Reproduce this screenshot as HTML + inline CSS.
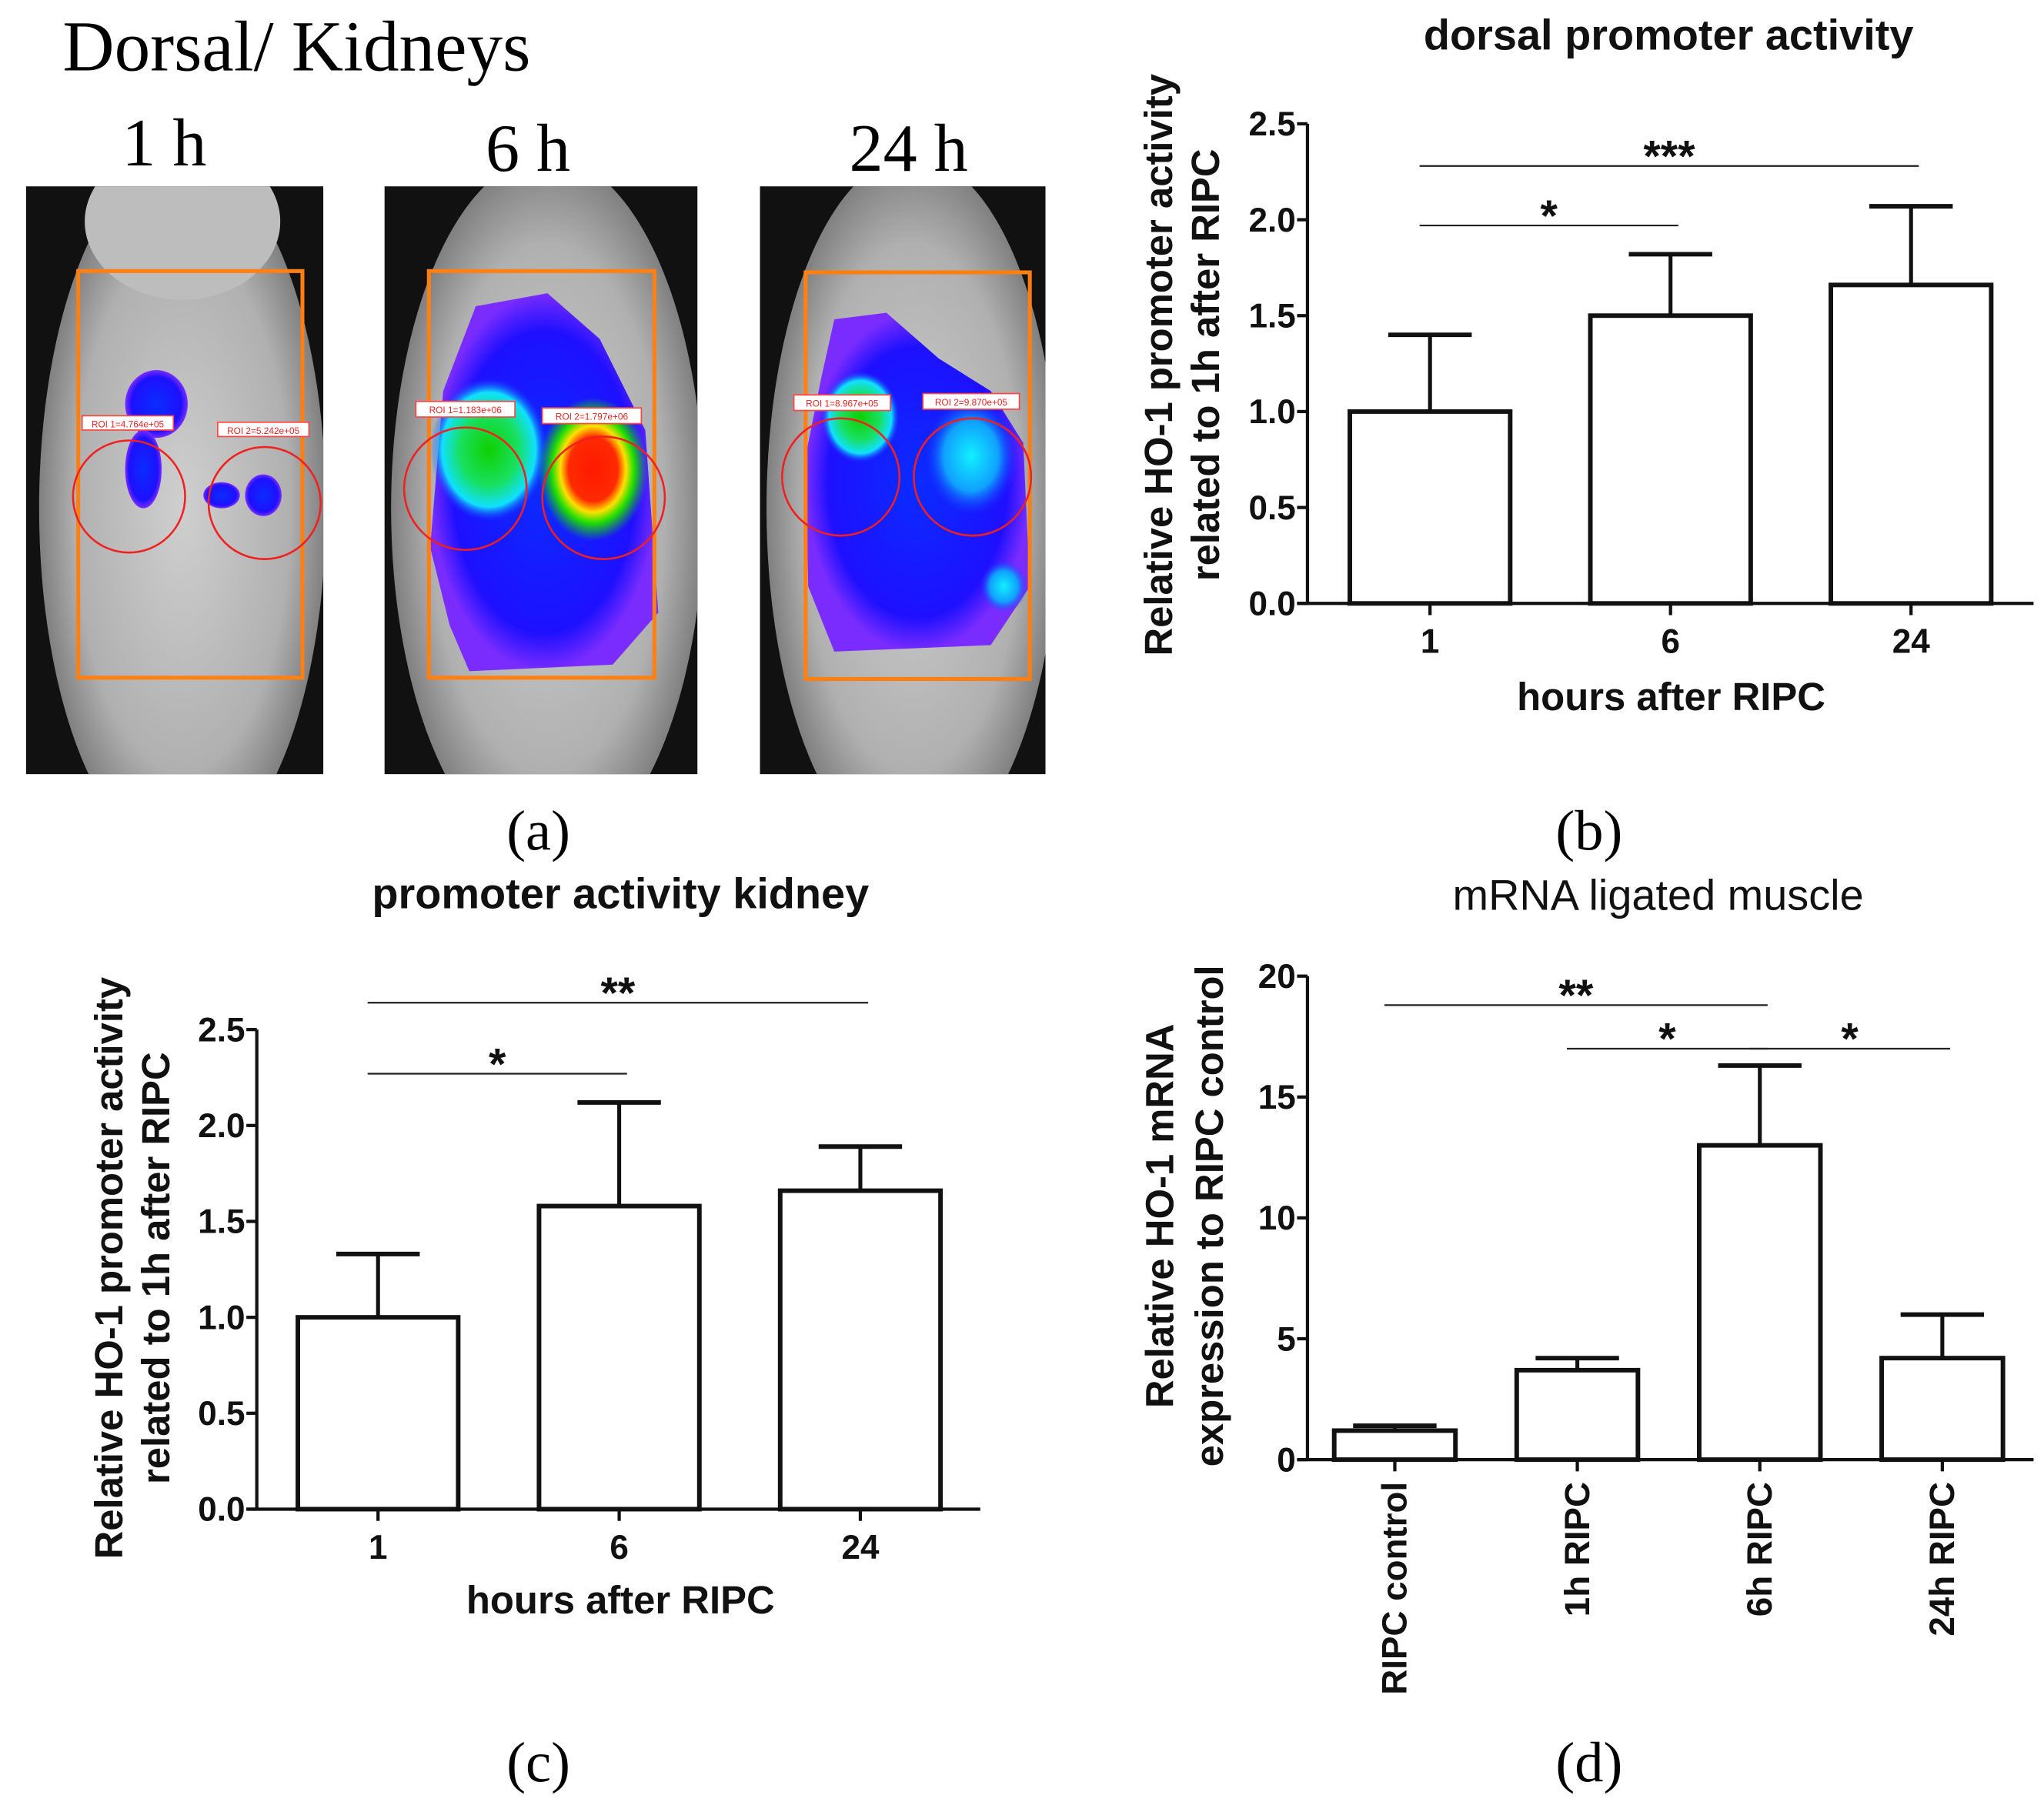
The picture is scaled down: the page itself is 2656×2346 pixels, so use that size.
<!DOCTYPE html>
<html><head><meta charset="utf-8">
<style>
html,body{margin:0;padding:0;background:#fff;}
svg{display:block;}
text{font-family:"Liberation Sans",Arial,sans-serif;}
.serif{font-family:"Liberation Serif","Times New Roman",serif;}
</style></head>
<body>
<svg id="fig" width="2656" height="2346" viewBox="0 0 1568 1385" preserveAspectRatio="none" xmlns="http://www.w3.org/2000/svg">
<defs>
<radialGradient id="gBlue"><stop offset="0" stop-color="#0a2cff"/><stop offset="0.8" stop-color="#1e10ff"/><stop offset="1" stop-color="#7a2cff"/></radialGradient>
<radialGradient id="gGreen"><stop offset="0" stop-color="#10d000"/><stop offset="0.5" stop-color="#18e060"/><stop offset="0.8" stop-color="#10e0ff"/><stop offset="1" stop-color="#1040ff" stop-opacity="0"/></radialGradient>
<radialGradient id="gRed"><stop offset="0" stop-color="#ff1a00"/><stop offset="0.45" stop-color="#ff2a00"/><stop offset="0.6" stop-color="#ffe000"/><stop offset="0.75" stop-color="#20e000"/><stop offset="1" stop-color="#10d000" stop-opacity="0"/></radialGradient>
<radialGradient id="gCyan"><stop offset="0" stop-color="#10f0ff"/><stop offset="0.6" stop-color="#10a0ff"/><stop offset="1" stop-color="#1040ff" stop-opacity="0"/></radialGradient>
<radialGradient id="gFur"><stop offset="0" stop-color="#cfcfcf"/><stop offset="0.75" stop-color="#b0b0b0"/><stop offset="1" stop-color="#808080"/></radialGradient>
<clipPath id="c1"><rect x="20" y="143" width="228" height="451"/></clipPath>
<clipPath id="c2"><rect x="295" y="143" width="240" height="451"/></clipPath>
<clipPath id="c3"><rect x="583" y="143" width="219" height="451"/></clipPath>
</defs>

<!-- Panel a -->
<g>
<text class="serif" x="48" y="54" font-size="55">Dorsal/ Kidneys</text>
<text class="serif" x="126" y="127" font-size="52" text-anchor="middle">1 h</text>
<text class="serif" x="405" y="131" font-size="52" text-anchor="middle">6 h</text>
<text class="serif" x="697" y="131" font-size="52" text-anchor="middle">24 h</text>

<g>
<rect x="20" y="143" width="228" height="451" fill="#111"/>
<g clip-path="url(#c1)">
<ellipse cx="140" cy="390" rx="110" ry="270" fill="url(#gFur)"/>
<ellipse cx="140" cy="170" rx="75" ry="60" fill="#bdbdbd"/>
<ellipse cx="120" cy="310" rx="24" ry="26" fill="url(#gBlue)"/>
<ellipse cx="110" cy="360" rx="14" ry="30" fill="url(#gBlue)"/>
<ellipse cx="170" cy="380" rx="14" ry="10" fill="url(#gBlue)"/>
<ellipse cx="202" cy="380" rx="14" ry="16" fill="url(#gBlue)"/>
</g>
<rect x="60" y="208" width="172" height="312" fill="none" stroke="#ff7f10" stroke-width="3"/>
<ellipse cx="99" cy="381" rx="43" ry="43" fill="none" stroke="#f02020" stroke-width="1.5"/>
<ellipse cx="203" cy="386" rx="43" ry="43" fill="none" stroke="#f02020" stroke-width="1.5"/>
<rect x="63" y="319" width="70" height="11" fill="#fff" stroke="#f44" stroke-width="1"/>
<text x="98" y="328" font-size="7" fill="#e22" text-anchor="middle">ROI 1=4.764e+05</text>
<rect x="167" y="324" width="70" height="11" fill="#fff" stroke="#f44" stroke-width="1"/>
<text x="202" y="333" font-size="7" fill="#e22" text-anchor="middle">ROI 2=5.242e+05</text>
</g>

<g>
<rect x="295" y="143" width="240" height="451" fill="#111"/>
<g clip-path="url(#c2)">
<ellipse cx="420" cy="390" rx="120" ry="270" fill="url(#gFur)"/>
<path d="M365 235 L420 225 L460 260 L495 330 L505 470 L470 510 L360 515 L345 480 L330 420 L340 300 Z" fill="url(#gBlue)"/>
<ellipse cx="375" cy="345" rx="45" ry="55" fill="url(#gGreen)"/>
<ellipse cx="455" cy="360" rx="42" ry="55" fill="url(#gRed)"/>
</g>
<rect x="329" y="208" width="173" height="312" fill="none" stroke="#ff7f10" stroke-width="3"/>
<ellipse cx="357" cy="375" rx="47" ry="47" fill="none" stroke="#f02020" stroke-width="1.5"/>
<ellipse cx="463" cy="382" rx="47" ry="47" fill="none" stroke="#f02020" stroke-width="1.5"/>
<rect x="319" y="308" width="76" height="12" fill="#fff" stroke="#f44"/>
<text x="357" y="317" font-size="7" fill="#e22" text-anchor="middle">ROI 1=1.183e+06</text>
<rect x="416" y="313" width="76" height="12" fill="#fff" stroke="#f44"/>
<text x="454" y="322" font-size="7" fill="#e22" text-anchor="middle">ROI 2=1.797e+06</text>
</g>

<g>
<rect x="583" y="143" width="219" height="451" fill="#111"/>
<g clip-path="url(#c3)">
<ellipse cx="700" cy="390" rx="112" ry="270" fill="url(#gFur)"/>
<path d="M640 245 L680 240 L720 275 L760 300 L785 340 L790 450 L760 495 L640 500 L620 450 L618 350 L630 290 Z" fill="url(#gBlue)"/>
<ellipse cx="660" cy="320" rx="30" ry="35" fill="url(#gGreen)"/>
<ellipse cx="745" cy="350" rx="35" ry="45" fill="url(#gCyan)"/>
<ellipse cx="770" cy="450" rx="18" ry="20" fill="url(#gCyan)"/>
</g>
<rect x="618" y="209" width="172" height="312" fill="none" stroke="#ff7f10" stroke-width="3"/>
<ellipse cx="645" cy="366" rx="45" ry="45" fill="none" stroke="#f02020" stroke-width="1.5"/>
<ellipse cx="746" cy="366" rx="45" ry="45" fill="none" stroke="#f02020" stroke-width="1.5"/>
<rect x="609" y="303" width="74" height="12" fill="#fff" stroke="#f44"/>
<text x="646" y="312" font-size="7" fill="#e22" text-anchor="middle">ROI 1=8.967e+05</text>
<rect x="708" y="302" width="74" height="12" fill="#fff" stroke="#f44"/>
<text x="745" y="311" font-size="7" fill="#e22" text-anchor="middle">ROI 2=9.870e+05</text>
</g>
</g>

<text class="serif" x="413" y="652" font-size="44" text-anchor="middle">(a)</text>
<text class="serif" x="1219" y="652" font-size="44" text-anchor="middle">(b)</text>
<text class="serif" x="413" y="1367" font-size="44" text-anchor="middle">(c)</text>
<text class="serif" x="1219" y="1367" font-size="44" text-anchor="middle">(d)</text>

<g id="chartB"></g>
<g id="chartC"></g>
<g id="chartD"></g>
</svg>

<script>
// Chart b data
const bCategories = ["1", "6", "24"];
const bValues = [1.0, 1.5, 1.66];
const bErrors = [1.40, 1.82, 2.07];
const bTicks = ["0.0", "0.5", "1.0", "1.5", "2.0", "2.5"];
const bSig = [["***", 0, 2, 2.28], ["*", 0, 1, 1.97]];
// Chart c data
const cCategories = ["1", "6", "24"];
const cValues = [1.0, 1.58, 1.66];
const cErrors = [1.33, 2.12, 1.89];
const cTicks = ["0.0", "0.5", "1.0", "1.5", "2.0", "2.5"];
const cSig = [["**", 0, 2, 2.64], ["*", 0, 1, 2.27]];
// Chart d data
const dCategories = ["RIPC control", "1h RIPC", "6h RIPC", "24h RIPC"];
const dValues = [1.2, 3.7, 13.0, 4.2];
const dErrors = [1.4, 4.2, 16.3, 6.0];
const dTicks = ["0", "5", "10", "15", "20"];
const dSig = [["**", 0, 2, 18.8], ["*", 1, 2, 17.0], ["*", 2, 3, 17.0]];

const NS = "http://www.w3.org/2000/svg";
function mk(parent, tag, attrs, txt) {
  const e = document.createElementNS(NS, tag);
  for (const k in attrs) e.setAttribute(k, attrs[k]);
  if (txt !== undefined) e.textContent = txt;
  parent.appendChild(e);
  return e;
}

function drawChart(g, o) {
  const ymax = parseFloat(o.ticks[o.ticks.length - 1]);
  const yS = v => o.y0 - (v / ymax) * (o.y0 - o.yTop);
  const xS = i => o.x0 + o.firstC + i * o.step;
  const t = mk(g, "text", {x: o.titleX, y: o.titleY, "font-size": o.titleSize, "font-weight": o.titleBold ? "bold" : "normal", "text-anchor": "middle", fill: "#111"}, o.title);
  
  
  const ya = mk(g, "line", {x1: o.x0, y1: o.yTop, x2: o.x0, y2: o.y0, stroke: "#111", "stroke-width": 2.5});
  
  
  o.ticks.forEach(tk => {
    const y = yS(parseFloat(tk));
    mk(g, "line", {x1: o.x0 - 8, y1: y, x2: o.x0, y2: y, stroke: "#111", "stroke-width": 2.5});
    const tl = mk(g, "text", {x: o.x0 - 9, y: y + 9, "font-size": 26, "font-weight": "bold", "text-anchor": "end", fill: "#111"}, tk);
    
    
  });
  const xa = mk(g, "line", {x1: o.x0 - 8, y1: o.y0, x2: o.xEnd, y2: o.y0, stroke: "#111", "stroke-width": 2.5});
  
  
  o.yTitle.forEach((line, k) => {
    const yt = mk(g, "text", {x: 0, y: 0, "font-size": 30, "font-weight": "bold", "text-anchor": "middle", fill: "#111", transform: `translate(${o.yTitleX[k]},${o.yTitleY}) rotate(-90)`}, line);
    
    
  });
  o.values.forEach((v, i) => {
    const cx = xS(i);
    const top = yS(v), et = yS(o.errors[i]);
    const eb = mk(g, "line", {x1: cx, y1: et, x2: cx, y2: top, stroke: "#111", "stroke-width": 3});
    
    
    const cap = mk(g, "line", {x1: cx - 32, y1: et, x2: cx + 32, y2: et, stroke: "#111", "stroke-width": 3.5});
    
    
    const r = mk(g, "rect", {x: cx - o.bw / 2, y: top, width: o.bw, height: o.y0 - top, fill: "#fff", stroke: "#111", "stroke-width": 3.5});
    
    
    mk(g, "line", {x1: cx, y1: o.y0, x2: cx, y2: o.y0 + 9, stroke: "#111", "stroke-width": 2.5});
    if (o.rotLabels) {
      const xl = mk(g, "text", {x: 0, y: 0, "font-size": 27, "font-weight": "bold", "text-anchor": "end", fill: "#111", transform: `translate(${cx + 9},${o.y0 + 17}) rotate(-90)`}, o.cats[i]);
      
      
    } else {
      const xl = mk(g, "text", {x: cx, y: o.y0 + 38, "font-size": 26, "font-weight": "bold", "text-anchor": "middle", fill: "#111"}, o.cats[i]);
      
      
    }
  });
  if (o.xTitle) {
    const xt = mk(g, "text", {x: o.xTitleX, y: o.xTitleY, "font-size": 30, "font-weight": "bold", "text-anchor": "middle", fill: "#111"}, o.xTitle);
    
    
  }
  o.sig.forEach(s => {
    const y = yS(s[3]);
    const x1 = xS(s[1]) - 8, x2 = xS(s[2]) + 6;
    const ln = mk(g, "line", {x1: x1, y1: y, x2: x2, y2: y, stroke: "#222", "stroke-width": 1.3});
    
    
    const st = mk(g, "text", {x: (x1 + x2) / 2, y: y + 4, "font-size": 34, "font-weight": "bold", "text-anchor": "middle", fill: "#111"}, s[0]);
    
    
  });
}

drawChart(document.getElementById("chartB"), {
  title: "dorsal promoter activity", titleX: 1280, titleY: 38, titleBold: true, titleSize: 33,
  x0: 1003, y0: 463, yTop: 95, xEnd: 1560, firstC: 94, step: 184.5, bw: 123,
  ticks: bTicks, cats: bCategories, values: bValues, errors: bErrors, sig: bSig,
  yTitle: ["Relative HO-1 promoter activity", "related to 1h after RIPC"], yTitleX: [899, 935], yTitleY: 280,
  xTitle: "hours after RIPC", xTitleX: 1282, xTitleY: 545
});
drawChart(document.getElementById("chartC"), {
  title: "promoter activity kidney", titleX: 476, titleY: 697, titleBold: true, titleSize: 33,
  x0: 197, y0: 1158, yTop: 790, xEnd: 752, firstC: 93, step: 185, bw: 123,
  ticks: cTicks, cats: cCategories, values: cValues, errors: cErrors, sig: cSig,
  yTitle: ["Relative HO-1 promoter activity", "related to 1h after  RIPC"], yTitleX: [94, 130], yTitleY: 973,
  xTitle: "hours after  RIPC", xTitleX: 476, xTitleY: 1238
});
drawChart(document.getElementById("chartD"), {
  title: "mRNA ligated muscle", titleX: 1272, titleY: 698, titleBold: false, titleSize: 33,
  x0: 1003, y0: 1120, yTop: 749, xEnd: 1560, firstC: 67, step: 140, bw: 93,
  ticks: dTicks, cats: dCategories, values: dValues, errors: dErrors, sig: dSig, rotLabels: true,
  yTitle: ["Relative HO-1 mRNA", "expression to RIPC control"], yTitleX: [900, 938], yTitleY: 933
});
</script>
</body></html>
